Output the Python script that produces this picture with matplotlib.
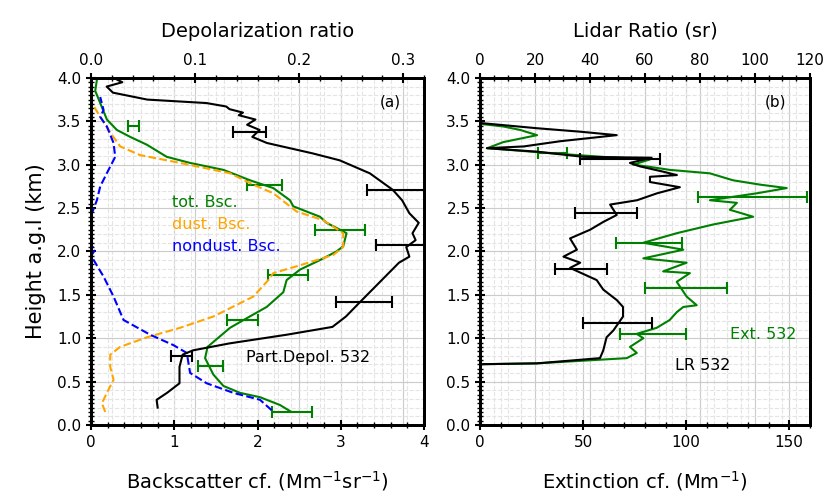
import numpy as np
import matplotlib
matplotlib.use('Agg')
import matplotlib.pyplot as plt
from matplotlib.ticker import MultipleLocator

# ---- panel (a): backscatter (bottom axis) and depolarization (top axis)
tot_h = [0.16, 0.23, 0.32, 0.37, 0.45, 0.58, 0.77, 0.90, 0.99, 1.12, 1.23, 1.36, 1.53, 1.67,
         1.79, 1.90, 2.00, 2.06, 2.21, 2.33, 2.40, 2.52, 2.59, 2.73, 2.82, 2.94, 3.02, 3.09,
         3.23, 3.32, 3.40, 3.52, 3.71, 3.85, 3.98]
tot_bsc = [2.39, 2.27, 2.03, 1.79, 1.59, 1.47, 1.37, 1.40, 1.51, 1.67, 1.87, 2.11, 2.31, 2.35,
           2.51, 2.75, 2.95, 3.03, 3.07, 2.83, 2.75, 2.43, 2.39, 2.19, 1.91, 1.59, 1.19, 0.91,
           0.67, 0.47, 0.31, 0.19, 0.11, 0.05, 0.07]
tot_err_h = [0.15, 0.68, 1.21, 1.73, 2.25, 2.77, 3.45]
tot_err_x = [2.41, 1.44, 1.82, 2.37, 2.99, 2.08, 0.51]
tot_err_dx = [0.24, 0.15, 0.19, 0.24, 0.30, 0.21, 0.07]

dust_h = [0.15, 0.25, 0.37, 0.52, 0.67, 0.81, 0.90, 1.01, 1.12, 1.25, 1.48, 1.67, 1.75, 1.84,
          1.96, 2.05, 2.21, 2.36, 2.46, 2.67, 2.77, 2.90, 3.02, 3.11, 3.21, 3.37, 3.55, 3.71]
dust_bsc = [0.17, 0.13, 0.19, 0.27, 0.23, 0.23, 0.35, 0.67, 1.07, 1.47, 1.95, 2.13, 2.19, 2.51,
            2.91, 3.03, 3.03, 2.79, 2.47, 2.19, 1.95, 1.67, 1.07, 0.59, 0.35, 0.23, 0.11, 0.01]

nd_h = [0.17, 0.29, 0.37, 0.48, 0.60, 0.83, 0.92, 1.04, 1.21, 1.48, 1.71, 1.95, 2.02, 2.06,
        2.21, 2.44, 2.59, 2.75, 2.94, 3.09, 3.25, 3.44, 3.55, 3.63, 3.78]
nd_bsc = [2.17, 2.03, 1.71, 1.39, 1.19, 1.15, 0.99, 0.71, 0.39, 0.27, 0.15, 0.00, 0.05, 0.01,
          0.00, 0.01, 0.07, 0.11, 0.21, 0.29, 0.27, 0.19, 0.11, 0.15, 0.11]

dep_h = [0.20, 0.29, 0.37, 0.48, 0.67, 0.81, 0.86, 0.94, 1.04, 1.13, 1.25, 1.41, 1.64, 1.87,
         1.94, 2.05, 2.13, 2.21, 2.33, 2.44, 2.59, 2.71, 2.90, 3.05, 3.13, 3.19, 3.25, 3.32,
         3.40, 3.46, 3.52, 3.57, 3.60, 3.64, 3.67, 3.71, 3.75, 3.83, 3.90, 3.95, 3.98]
dep = [0.064, 0.063, 0.073, 0.085, 0.085, 0.088, 0.098, 0.133, 0.188, 0.232, 0.245, 0.258,
       0.277, 0.296, 0.306, 0.303, 0.312, 0.309, 0.315, 0.306, 0.299, 0.290, 0.268, 0.239,
       0.213, 0.191, 0.169, 0.155, 0.162, 0.150, 0.158, 0.142, 0.146, 0.133, 0.130, 0.111,
       0.054, 0.021, 0.015, 0.030, 0.025]
dep_err_h = [0.80, 1.42, 2.07, 2.71, 3.38]
dep_err_x = [0.087, 0.262, 0.305, 0.295, 0.152]
dep_err_dx = [0.010, 0.027, 0.031, 0.030, 0.016]

# ---- panel (b): extinction (bottom axis) and lidar ratio (top axis)
ext_h = [0.70, 0.71, 0.77, 0.83, 0.90, 1.00, 1.05, 1.12, 1.21, 1.30, 1.36, 1.38, 1.48, 1.65,
         1.75, 1.77, 1.87, 1.92, 2.02, 2.10, 2.21, 2.31, 2.40, 2.48, 2.56, 2.59, 2.67, 2.73,
         2.77, 2.82, 2.90, 2.94, 2.98, 3.00, 3.06, 3.09, 3.13, 3.19, 3.26, 3.34, 3.40, 3.44, 3.47]
ext = [0.0, 27.6, 71.1, 76.0, 72.7, 79.2, 76.0, 85.7, 92.0, 95.4, 98.6, 105.1, 100.2, 95.4,
       101.8, 88.8, 100.2, 79.2, 98.6, 79.2, 95.4, 113.0, 132.5, 121.2, 124.6, 111.5, 134.3,
       148.8, 135.8, 122.7, 111.5, 92.0, 80.8, 74.2, 82.4, 59.6, 35.4, 3.4, 11.2, 27.6, 19.4,
       11.2, 0.0]
ext_err_h = [1.05, 1.58, 2.10, 2.63, 3.14]
ext_err_x = [84, 100, 82, 132, 35]
ext_err_dx = [16, 20, 16, 26.5, 7]

lr_h = [0.70, 0.71, 0.77, 0.86, 1.01, 1.09, 1.25, 1.36, 1.44, 1.56, 1.67, 1.81, 1.87, 1.94,
        2.02, 2.15, 2.25, 2.34, 2.42, 2.54, 2.59, 2.67, 2.74, 2.80, 2.86, 2.88, 2.92, 2.98,
        3.02, 3.08, 3.09, 3.15, 3.19, 3.21, 3.27, 3.34, 3.38, 3.42, 3.48]
lr = [0.0, 20.6, 43.6, 44.8, 46.0, 48.5, 52.0, 52.0, 49.7, 44.8, 42.4, 32.7, 36.4, 30.3,
      35.2, 32.7, 40.0, 44.8, 49.7, 47.3, 57.1, 64.4, 72.7, 61.8, 61.8, 71.6, 66.5, 58.2,
      54.5, 62.4, 37.6, 20.6, 2.4, 15.8, 29.1, 49.7, 36.4, 20.6, 0.0]
lr_err_h = [1.17, 1.80, 2.44, 3.06]
lr_err_x = [50, 36.7, 45.8, 51]
lr_err_dx = [12.5, 9.4, 11.3, 14.5]

plt.rcParams['font.family'] = 'DejaVu Sans'

fig = plt.figure(figsize=(8.28, 4.93), dpi=100)
ax1 = fig.add_axes([0.110, 0.138, 0.402, 0.704])
ax2 = fig.add_axes([0.580, 0.138, 0.398, 0.704])


def style(ax):
    for s in ax.spines.values():
        s.set_linewidth(2)
    ax.tick_params(which='major', length=7, width=1.5, labelsize=11, direction='inout')
    ax.tick_params(which='minor', length=4, width=1, direction='inout')


def draw_grid(ax, xmax, top_max, bot_major, bot_minor, top_major, top_minor):
    # all grid lines live on the bottom axes so they stay behind every curve
    scale = xmax / top_max
    for step, col, ls in [(bot_minor, '#e4e4e4', '--'), (bot_major, '#cccccc', '-')]:
        for v in np.arange(step, xmax, step):
            ax.axvline(v, color=col, lw=0.8, ls=ls, zorder=0)
    for step, col, ls in [(top_minor, '#e4e4e4', '--'), (top_major, '#cccccc', '-')]:
        for v in np.arange(step, top_max, step):
            ax.axvline(v * scale, color=col, lw=0.8, ls=ls, zorder=0)
    for v in np.arange(0.1, 4.0, 0.1):
        ax.axhline(v, color='#e4e4e4', lw=0.8, ls='--', zorder=0)
    for v in np.arange(0.5, 4.0, 0.5):
        ax.axhline(v, color='#cccccc', lw=0.8, zorder=0)


# panel (a)
draw_grid(ax1, 4, 0.32, 1, 0.2, 0.1, 0.02)
ax1.plot(tot_bsc, tot_h, color='green', lw=1.5)
ax1.errorbar(tot_err_x, tot_err_h, xerr=tot_err_dx, fmt='none', ecolor='green',
             elinewidth=1.5, capsize=4, capthick=1.5)
ax1.plot(dust_bsc, dust_h, color='orange', lw=1.5, ls='--')
ax1.plot(nd_bsc, nd_h, color='blue', lw=1.5, ls='--')
ax1.set_xlim(0, 4)
ax1.set_ylim(0, 4)
ax1.xaxis.set_major_locator(MultipleLocator(1))
ax1.xaxis.set_minor_locator(MultipleLocator(0.2))
ax1.yaxis.set_major_locator(MultipleLocator(0.5))
ax1.yaxis.set_minor_locator(MultipleLocator(0.05))
ax1.set_xlabel('Backscatter cf. (Mm$^{-1}$sr$^{-1}$)', fontsize=14, labelpad=14)
ax1.set_ylabel('Height a.g.l (km)', fontsize=15, labelpad=8)
style(ax1)
ax1.text(0.93, 0.93, '(a)', transform=ax1.transAxes, ha='right', va='center', fontsize=11)

ax1t = ax1.twiny()
ax1t.plot(dep, dep_h, color='black', lw=1.5)
ax1t.errorbar(dep_err_x, dep_err_h, xerr=dep_err_dx, fmt='none', ecolor='black',
              elinewidth=1.5, capsize=4, capthick=1.5)
ax1t.set_xlim(0, 0.32)
ax1t.xaxis.set_major_locator(MultipleLocator(0.1))
ax1t.xaxis.set_minor_locator(MultipleLocator(0.02))
ax1t.set_xlabel('Depolarization ratio', fontsize=14, labelpad=12)
style(ax1t)

# legend-like texts in panel (a)
fig.text(172 / 828, 1 - 207 / 493, 'tot. Bsc.', color='green', fontsize=11.5)
fig.text(172 / 828, 1 - 229 / 493, 'dust. Bsc.', color='orange', fontsize=11.5)
fig.text(172 / 828, 1 - 251 / 493, 'nondust. Bsc.', color='blue', fontsize=11.5)
fig.text(246 / 828, 1 - 362 / 493, 'Part.Depol. 532', color='black', fontsize=11.5)

# panel (b)
draw_grid(ax2, 160, 120, 50, 10, 20, 5)
ax2.plot(ext, ext_h, color='green', lw=1.5)
ax2.errorbar(ext_err_x, ext_err_h, xerr=ext_err_dx, fmt='none', ecolor='green',
             elinewidth=1.5, capsize=4, capthick=1.5)
ax2.set_xlim(0, 160)
ax2.set_ylim(0, 4)
ax2.xaxis.set_major_locator(MultipleLocator(50))
ax2.xaxis.set_minor_locator(MultipleLocator(10))
ax2.yaxis.set_major_locator(MultipleLocator(0.5))
ax2.yaxis.set_minor_locator(MultipleLocator(0.05))
ax2.set_xlabel('Extinction cf. (Mm$^{-1}$)', fontsize=14, labelpad=14)
style(ax2)
ax2.text(0.93, 0.93, '(b)', transform=ax2.transAxes, ha='right', va='center', fontsize=11)

ax2t = ax2.twiny()
ax2t.plot(lr, lr_h, color='black', lw=1.5)
ax2t.errorbar(lr_err_x, lr_err_h, xerr=lr_err_dx, fmt='none', ecolor='black',
              elinewidth=1.5, capsize=4, capthick=1.5)
ax2t.set_xlim(0, 120)
ax2t.xaxis.set_major_locator(MultipleLocator(20))
ax2t.xaxis.set_minor_locator(MultipleLocator(5))
ax2t.set_xlabel('Lidar Ratio (sr)', fontsize=14, labelpad=12)
style(ax2t)

fig.text(730 / 828, 1 - 339 / 493, 'Ext. 532', color='green', fontsize=11.5)
fig.text(675 / 828, 1 - 370 / 493, 'LR 532', color='black', fontsize=11.5)

fig.savefig('out.png', dpi=100)
